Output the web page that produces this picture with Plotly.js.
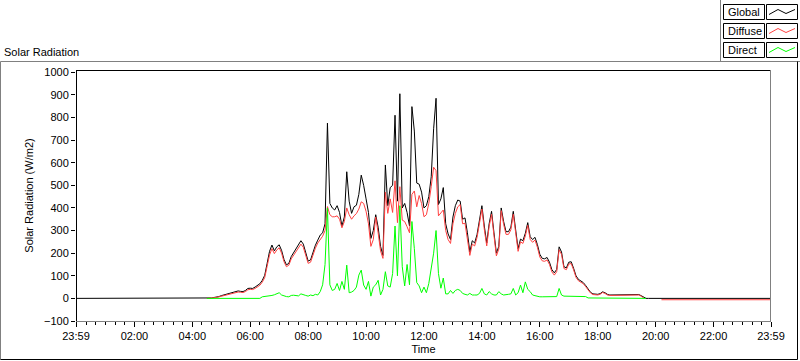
<!DOCTYPE html>
<html><head><meta charset="utf-8">
<script src="https://cdn.plot.ly/plotly-3.0.1.min.js"></script>
<style>html,body{margin:0;padding:0;background:#fff;}#chart{width:800px;height:361px;}</style>
</head><body><div id="chart"></div>
<script>
// ---- data ----
const seriesNames = ['Global', 'Diffuse', 'Direct'];
const seriesColors = ['#000000', '#ff4040', '#00ff00'];
const dayStartMinute = 270;   // 04:30
const stepMinutes = 5;
const axisStartMinute = -1;   // 23:59 previous day
const axisEndMinute = 1439;   // 23:59
const globalDay = [
0,0,2,4,5,8,12,15,16,20,
25,28,30,33,31,30,35,44,45,44,
50,58,65,80,102,155,208,236,210,228,
237,212,172,148,155,185,203,220,240,255,
240,200,165,170,205,235,258,280,290,330,
775,420,400,391,410,380,320,360,560,430,
376,405,412,460,545,500,440,380,265,300,
370,315,230,190,590,410,490,500,810,430,
905,400,420,380,320,848,740,510,505,470,
400,410,450,538,750,885,415,440,490,330,
285,260,360,410,435,430,350,356,290,205,
255,245,283,340,410,320,245,330,385,290,
200,230,400,340,295,295,315,385,305,220,
262,255,288,335,273,260,270,238,195,177,
175,181,160,127,113,128,228,205,140,135,
160,162,133,100,84,78,70,57,41,27,
20,18,18,21,29,25,18,15,15,15,
15,15,15,17,18,15,15,15,17,17,
12,4,0,0];
const diffuseDay = [
0,0,2,3,4,7,10,12,13,17,
21,24,26,28,27,26,30,38,40,39,
44,52,58,72,92,142,192,220,198,214,
224,200,162,140,147,175,192,208,226,240,
226,188,155,160,193,222,245,262,275,300,
406,370,361,361,365,350,312,340,400,370,
350,365,375,395,427,420,385,330,230,260,
360,290,210,177,470,376,440,380,520,335,
494,346,340,317,290,460,475,405,455,420,
361,370,420,494,580,565,365,378,391,300,
260,243,330,376,405,415,330,332,270,190,
240,232,270,325,395,305,232,318,372,278,
188,218,388,328,283,283,303,372,293,208,
250,243,276,323,261,248,258,226,183,166,
164,170,150,117,103,118,215,195,132,127,
152,154,126,93,78,72,65,52,37,24,
17,15,15,18,26,22,15,13,13,13,
13,13,13,15,16,13,13,13,15,15,
10,2,null,null];
const diffuseEveningMinutes = [1212, 1439];
const diffuseEveningValues = [-6, -6];
const directDay = [
0,0,0,0,0,0,0,0,0,0,
0,0,0,0,0,0,0,0,0,0,
0,0,0,7,8,10,10,13,16,20,
25,15,11,8,7,13,14,11,11,20,
15,13,10,15,12,18,15,30,60,150,
400,60,35,40,66,35,75,40,147,25,
28,35,50,103,125,59,40,75,10,50,
60,80,15,40,118,55,50,110,320,100,
410,140,55,150,60,340,220,70,55,25,
50,25,66,140,200,300,110,45,90,20,
20,35,22,35,40,35,22,18,15,22,
15,15,15,22,44,20,15,30,20,15,
15,30,20,15,15,18,20,44,15,25,
59,25,73,40,30,15,12,8,7,7,
7,7,7,7,7,8,44,15,10,10,
10,10,10,10,10,10,10,8,2,2,
2,2,2,2,2,2,2,2,2,2,
2,2,2,2,2,2,2,2,2,2,
2,1,0,null];
const xTickMinutes = [-1,120,240,360,480,600,720,840,960,1080,1200,1320,1439];
const xTickLabels = ['23:59','02:00','04:00','06:00','08:00','10:00','12:00','14:00','16:00','18:00','20:00','22:00','23:59'];

// ---- build traces ----
const dayMinutes = globalDay.map((_, i) => dayStartMinute + i * stepMinutes);
const traces = [
  {x: [axisStartMinute, ...dayMinutes, axisEndMinute], y: [0, ...globalDay, 0]},
  {x: [...dayMinutes, ...diffuseEveningMinutes], y: [...diffuseDay, ...diffuseEveningValues]},
  {x: dayMinutes, y: directDay}
].map((t, k) => Object.assign(t, {
  type: 'scatter', mode: 'lines', name: seriesNames[k], connectgaps: false,
  line: {color: seriesColors[k], width: 1}, hoverinfo: 'skip'
}));

// ---- layout helpers (pixel -> paper) ----
const L = 76, R = 771, T = 70, B = 321;
const px = x => (x - L) / (R - L);
const py = y => (B - y) / (B - T);
const FONT = '"Liberation Sans", Arial, sans-serif';
const shapes = [];
const annotations = [];
function line(x0, y0, x1, y1, color) {
  shapes.push({type: 'line', xref: 'paper', yref: 'paper', x0: px(x0), y0: py(y0), x1: px(x1), y1: py(y1),
    line: {color: color, width: 1}, layer: 'above'});
}
// outer panel frame
line(0.5, 61.5, 800, 61.5, '#808080');
line(0.5, 61.5, 0.5, 359.5, '#808080');
line(0.5, 359.5, 797.5, 359.5, '#000000');
line(797.5, 61.5, 797.5, 359.5, '#000000');
// plot area border
line(76, 70.5, 771, 70.5, '#000000');
line(76.5, 70, 76.5, 321, '#000000');
line(770.5, 70, 770.5, 321.5, '#808080');
line(76, 321.5, 771, 321.5, '#808080');
// legend panel border
line(720.5, 0, 720.5, 61.5, '#808080');
// legend items
const legendTops = [4.5, 23.5, 42.5];
seriesNames.forEach((name, k) => {
  const top = legendTops[k], bot = top + 15;
  shapes.push({type: 'rect', xref: 'paper', yref: 'paper', x0: px(723.5), x1: px(764.5), y0: py(bot), y1: py(top),
    line: {color: '#000', width: 1}, fillcolor: '#fff', layer: 'above'});
  shapes.push({type: 'rect', xref: 'paper', yref: 'paper', x0: px(766.5), x1: px(797.5), y0: py(bot), y1: py(top),
    line: {color: '#000', width: 1}, fillcolor: '#fff', layer: 'above'});
  const pts = [[769, top + 10], [778, top + 5], [786, top + 9], [795, top + 5]];
  shapes.push({type: 'path', xref: 'paper', yref: 'paper', layer: 'above',
    path: 'M' + pts.map(p => px(p[0]) + ',' + py(p[1])).join(' L'),
    line: {color: seriesColors[k], width: 1}});
  annotations.push({xref: 'paper', yref: 'paper', x: px(725.5), y: py(top + 7.5), xanchor: 'left', yanchor: 'middle',
    text: name, showarrow: false, font: {family: FONT, size: 11, color: '#000'}});
});

const layout = {
  width: 800, height: 361,
  margin: {l: L, r: 800 - R, t: T, b: 361 - B, pad: 0},
  paper_bgcolor: '#ffffff', plot_bgcolor: '#ffffff',
  font: {family: FONT, size: 11, color: '#000'},
  showlegend: false,
  title: {text: 'Solar Radiation', x: 4 / 800, xref: 'container', xanchor: 'left',
    y: 1 - 52 / 361, yref: 'container', yanchor: 'middle', font: {family: FONT, size: 11, color: '#000'}},
  xaxis: {
    range: [axisStartMinute, axisEndMinute], tickmode: 'array', tickvals: xTickMinutes, ticktext: xTickLabels,
    ticks: 'outside', ticklen: 5, tickwidth: 1, tickcolor: '#000', showgrid: false, zeroline: false, showline: false,
    tickfont: {family: FONT, size: 11, color: '#000'},
    minor: {tickmode: 'linear', tick0: 0, dtick: 20, ticks: 'outside', ticklen: 3, tickcolor: '#000', showgrid: false},
    title: {text: 'Time', standoff: 4, font: {family: FONT, size: 11, color: '#000'}}
  },
  yaxis: {
    range: [-100, 1010], tickmode: 'linear', tick0: -100, dtick: 100,
    ticks: 'outside', ticklen: 4, tickwidth: 1, tickcolor: '#000', showgrid: false, zeroline: false, showline: false,
    tickfont: {family: FONT, size: 11, color: '#000'},
    title: {text: 'Solar Radiation (W/m2)', standoff: 8, font: {family: FONT, size: 11, color: '#000'}}
  },
  shapes: shapes, annotations: annotations
};
Plotly.newPlot('chart', traces, layout, {staticPlot: true, displayModeBar: false});
</script></body></html>
